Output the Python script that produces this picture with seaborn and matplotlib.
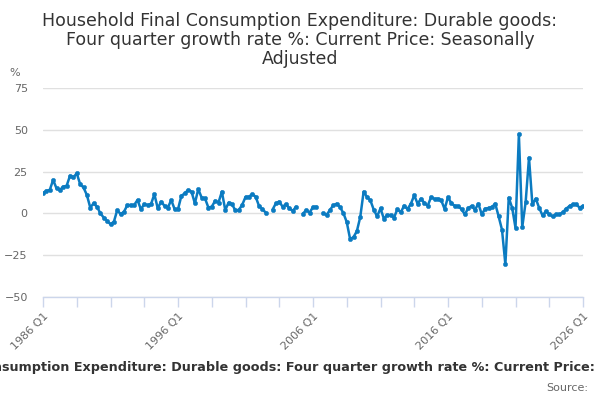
import seaborn as sns
import matplotlib.pyplot as plt
import numpy as np
import pandas as pd

# quarterly values, 1986 Q1 .. 2026 Q1 (None = no data)
values_1986_1995 = [12, 13.5, 14, 20, 15, 14, 16, 16.5, 22.5, 21.5,
                    24, 17.5, 15.5, 11, 3.5, 6, 4, 0, -2.5, -4.5,
                    -6.5, -5, 2, -0.5, 1, 5, 5, 5, 8, 2.5,
                    5.5, 5, 5.5, 11.5, 3, 7, 4.5, 3.5, 8, 2.5]
values_1996_2005 = [2.5, 10.5, 12, 14, 13, 6, 14.5, 9.5, 9, 3.5,
                    4, 7.5, 6.5, 13, 2, 6.5, 5.5, 1.8, 2, 5,
                    9.8, 10, 11.5, 10, 4.5, 2.5, 0.5, None, 2.2, 6,
                    7, 4, 5.5, 3, 1.5, 4, None, -0.2, 2, 0.5]
values_2006_2015 = [3.8, 4, None, 0.2, -1, 2, 4.8, 5.8, 3.8, 0.2,
                    -5.2, -15.4, -14.2, -10.6, -2.2, 13, 9.8, 7.8, 2.2, -1.8,
                    3, -3.2, -1, -1, -2.6, 2.6, 0.6, 4.6, 2.6, 5.8,
                    10.8, 5.8, 8.8, 6.2, 4.6, 9.8, 8.6, 8.8, 7.8, 2.6]
values_2016_2026 = [9.8, 6, 4.5, 4.4, 2.5, -0.6, 3.2, 4.4, 2.2, 5.8,
                    -0.6, 2.8, 3.2, 3.8, 5.8, -1.8, -9.8, -30.5, 9.4, 3.4,
                    -8.6, 47.2, -8.2, 6.6, 33.3, 5.4, 8.8, 3.4, -1.2, 1.2,
                    -0.6, -1.8, -0.6, -0.6, 0.6, 2.8, 4.4, 5.4, 5.4, 3.4,
                    4.6]

values = values_1986_1995 + values_1996_2005 + values_2006_2015 + values_2016_2026
quarters = [f"{1986 + i // 4} Q{i % 4 + 1}" for i in range(len(values))]
tick_labels = ["1986 Q1", "1996 Q1", "2006 Q1", "2016 Q1", "2026 Q1"]

df = pd.DataFrame({"quarter": quarters,
                   "value": pd.array(values, dtype="Float64").astype(float)})
df["pos"] = np.arange(len(df))

sns.set_theme(style="white")
plt.rcParams["font.family"] = ["DejaVu Sans"]

fig = plt.figure(figsize=(6, 4), dpi=100)
ax = fig.add_axes([43 / 600, 1 - 297 / 400, 540 / 600, 209 / 400])

blue = "#0b7bc1"
# lineplot would bridge the gaps, so plot the line with matplotlib NaNs
ax.plot(df["pos"], df["value"], color=blue, lw=1.8, zorder=3)
sns.scatterplot(data=df, x="pos", y="value", ax=ax, color=blue, s=10,
                edgecolor=blue, linewidth=0.3, zorder=4, legend=False)

ax.set_xlim(0, len(df) - 1)
ax.set_ylim(-50, 75)
ax.set_yticks([-50, -25, 0, 25, 50, 75])
ax.yaxis.grid(True, color="#e0e0e0", lw=1)
ax.set_axisbelow(True)

major = [quarters.index(t) for t in tick_labels]
ax.set_xticks(major)
ax.set_xticklabels(tick_labels, rotation=45, ha="right", rotation_mode="anchor")
ax.set_xticks(np.arange(0, len(df), 10), minor=True)
ax.tick_params(axis="x", which="both", direction="out", length=7, width=1,
               color="#ccd6eb", labelsize=8, labelcolor="#666666", pad=3,
               bottom=True)
ax.tick_params(axis="y", length=0, labelsize=8, labelcolor="#666666", pad=11)
for lbl in ax.get_yticklabels():
    lbl.set_horizontalalignment("right")

for s in ["top", "right", "left"]:
    ax.spines[s].set_visible(False)
ax.spines["bottom"].set_color("#ccd6eb")
ax.spines["bottom"].set_linewidth(1)
ax.set_xlabel("")
ax.set_ylabel("")

fig.text(15 / 600, 1 - 73 / 400, "%", fontsize=8, color="#666666",
         ha="center", va="center")

fig.text(0.5, 1 - 40 / 400,
         "Household Final Consumption Expenditure: Durable goods:\n"
         "Four quarter growth rate %: Current Price: Seasonally\nAdjusted",
         ha="center", va="center", fontsize=12.5, color="#333333",
         linespacing=1.05)

# the reference caption runs past both edges of the picture
fig.text(0.5, 1 - 367 / 400,
         "Household Final Consumption Expenditure: Durable goods: Four quarter "
         "growth rate %: Current Price: Seasonally Adjusted",
         ha="center", va="center", fontsize=9.2, fontweight="bold",
         color="#333333")
fig.text(588 / 600, 1 - 388 / 400, "Source:", ha="right", va="center",
         fontsize=8, color="#666666")

fig.savefig("out.png", dpi=100)
